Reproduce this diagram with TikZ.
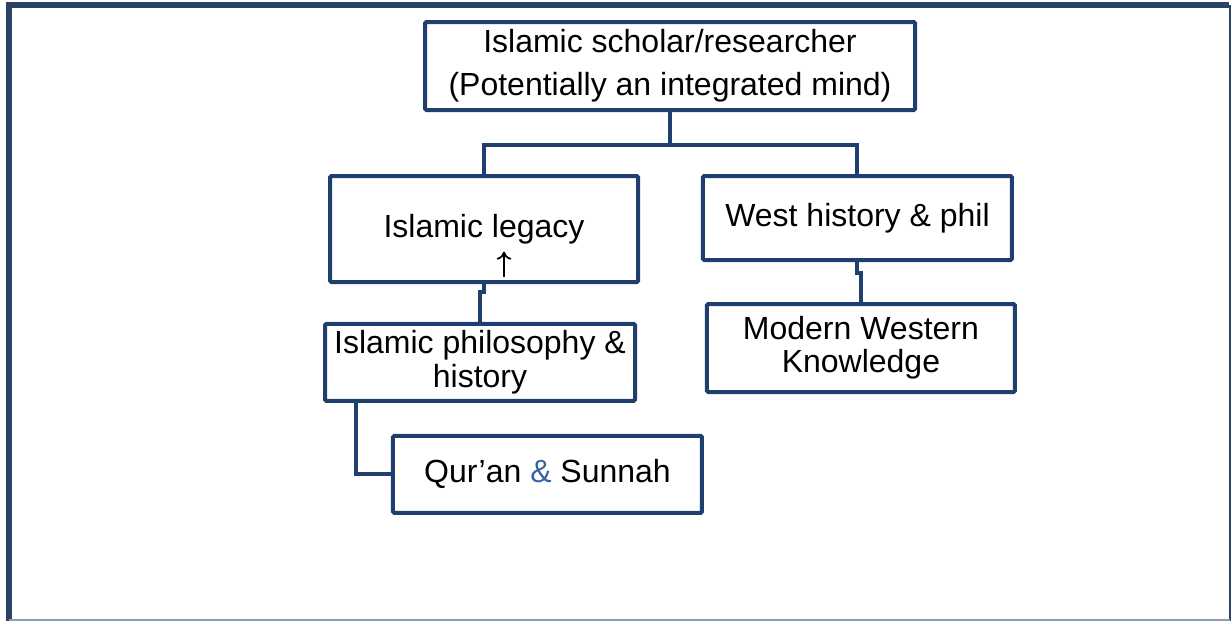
\documentclass[tikz,border=0pt]{standalone}
\usepackage{fontspec}
\setmainfont{Liberation Sans}
\usepackage{tikz}
\usetikzlibrary{shapes, arrows, arrows.meta}
\definecolor{navy}{RGB}{31,63,110}
\definecolor{framenavy}{RGB}{42,66,100}
\definecolor{frameedge}{RGB}{140,158,182}
\definecolor{ampblue}{RGB}{58,100,160}
\tikzset{
  every box/.style={
    rectangle,
    draw=navy,
    line width=3pt,
    rounded corners=1pt,
    align=center,
    inner sep=0pt,
    font=\fontsize{24}{25}\selectfont
  },
}
\tikzstyle{block} = [every box, minimum width=231pt]
\tikzstyle{conn} = [draw=navy, line width=3pt]
\tikzstyle{arrow} = [line width=1.3pt, -{To[length=6pt,width=11pt]}]

\begin{document}
\begin{tikzpicture}[node distance=100pt, auto]
	\useasboundingbox (0,0) rectangle (924pt,-465.75pt);
	% frame
	\draw [framenavy, line width=4.5pt] (6.75pt,-465.75pt) -- (6.75pt,-3.75pt) -- (922pt,-3.75pt);
	\draw [framenavy, line width=1.5pt] (922.5pt,-3.75pt) -- (922.5pt,-465.75pt);
	\draw [frameedge, line width=1.2pt] (6.75pt,-464.9pt) -- (922.5pt,-464.9pt);
	% blocks
	\node [every box, minimum width=367.5pt, minimum height=66pt, font=\fontsize{24}{32}\selectfont] (scholar) at (502.5pt,-49.5pt) {Islamic scholar/researcher\\(Potentially an integrated mind)};
	\node [block, below of=scholar, minimum height=79.5pt, xshift=-139.5pt, yshift=-22.25pt] (legacy) {Islamic legacy};
	\node [block, below of=scholar, minimum width=231.75pt, minimum height=63pt, xshift=140.6pt, yshift=-14pt] (west) {West history \& phil};
	\node [block, below of=legacy, minimum width=232.5pt, minimum height=57.75pt, xshift=-3pt] (philo) {Islamic philosophy \&\\history};
	\node [block, below of=west, minimum height=66pt, xshift=2.6pt, yshift=2.5pt] (modern) {Modern Western\\Knowledge};
	\node [block, below of=philo, minimum width=231.75pt, minimum height=57.75pt, xshift=50.6pt, yshift=16pt] (quran) {Qur’an \textcolor{ampblue}{\&} Sunnah};
	\coordinate (split) at ([yshift=-24.75pt]scholar.south);
	\coordinate (tail) at ([xshift=15pt, yshift=-36pt]legacy.center);
	\coordinate (head) at ([xshift=15pt, yshift=-17pt]legacy.center);
	
	% arrows
	\draw [conn] (scholar.south) -- (split);
	\draw [conn] (legacy.north) |- (split) -| (west.north);
	\draw [conn] (legacy.south) -- ++(0,-6pt) -| (philo.north);
	\draw [conn] (west.south) -- ++(0,-8pt) -| (modern.north);
	\draw [conn] ([xshift=24.75pt]philo.south west) |- (quran.west);
	\draw [arrow] (tail) -- (head);
\end{tikzpicture}
\end{document}
